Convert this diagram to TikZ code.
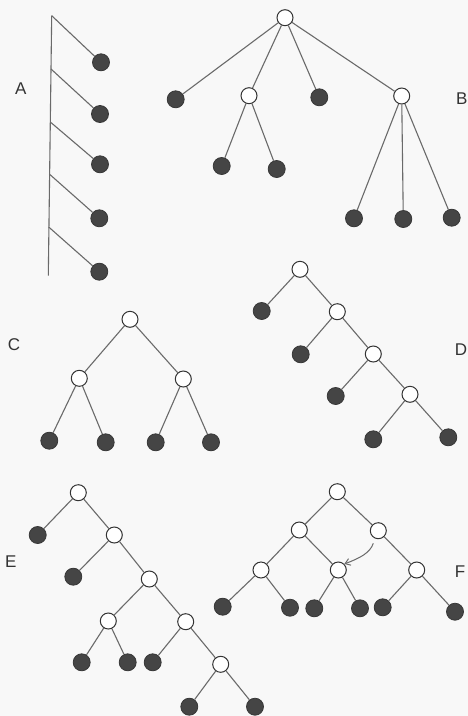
\documentclass[tikz,border=0pt]{standalone}
\usepackage{fontspec}
\setmainfont{Liberation Sans}
\usetikzlibrary{arrows.meta}
\definecolor{paper}{HTML}{F8F8F8}
\definecolor{edgegray}{HTML}{6A6A6A}
\definecolor{leafgray}{HTML}{454545}
\tikzset{
  leaf/.style={circle, fill=leafgray, draw=leafgray!80!black, line width=0.8pt, minimum size=17pt, inner sep=0pt},
  inner/.style={circle, fill=white, draw=black!80, line width=1pt, minimum size=16pt, inner sep=0pt},
  edge/.style={draw=edgegray, line width=1.1pt},
  tag/.style={font=\fontsize{17}{17}\selectfont, text=black!80}
}
\begin{document}
\begin{tikzpicture}[x=1pt, y=-1pt]
\fill[paper] (0,0) rectangle (468,716);
\useasboundingbox (0,0) rectangle (468,716);

% ---- A: comb ----
\coordinate (aTop) at (51.7,15.7);
\coordinate (aBot) at (48.3,275.7);
\coordinate (a1) at (51.7,15.7);
\coordinate (a2) at (51.0,69);
\coordinate (a3) at (50.3,122);
\coordinate (a4) at (49.3,174);
\coordinate (a5) at (48.7,227);
\node[leaf] (al1) at (101,62.3) {};
\node[leaf] (al2) at (100,114) {};
\node[leaf] (al3) at (100,164.3) {};
\node[leaf] (al4) at (99.3,218.3) {};
\node[leaf] (al5) at (99.3,271.7) {};
\draw[edge] (aTop) -- (aBot);
\foreach \i in {1,...,5} \draw[edge] (a\i) -- (al\i);
\node[tag] (labA) at (20.7,88.3) {A};

% ---- B ----
\node[inner] (b0) at (285,17.7) {};
\node[leaf] (b1) at (175.7,99.3) {};
\node[inner] (b2) at (249,95.7) {};
\node[leaf] (b3) at (319.3,97.3) {};
\node[inner] (b4) at (401.7,96) {};
\node[leaf] (b21) at (221.7,166) {};
\node[leaf] (b22) at (276.7,169) {};
\node[leaf] (b41) at (354,218.3) {};
\node[leaf] (b42) at (403.3,219) {};
\node[leaf] (b43) at (451.7,217.7) {};
\foreach \a/\b in {b0/b1,b0/b2,b0/b3,b0/b4,b2/b21,b2/b22,b4/b41,b4/b42,b4/b43}
  \draw[edge] (\a) -- (\b);
\node[tag] (labB) at (461.7,99) {B};

% ---- C ----
\node[inner] (c0) at (130,319.3) {};
\node[inner] (c1) at (79.3,378.3) {};
\node[inner] (c2) at (183.3,379) {};
\node[leaf] (c11) at (49.3,440.7) {};
\node[leaf] (c12) at (105.7,442.3) {};
\node[leaf] (c21) at (155.7,442.3) {};
\node[leaf] (c22) at (211,442.3) {};
\foreach \a/\b in {c0/c1,c0/c2,c1/c11,c1/c12,c2/c21,c2/c22}
  \draw[edge] (\a) -- (\b);
\node[tag] (labC) at (14,345) {C};

% ---- D ----
\node[inner] (d0) at (300,269.3) {};
\node[leaf] (d0l) at (261.7,311) {};
\node[inner] (d1) at (337.3,311.7) {};
\node[leaf] (d1l) at (300.7,354.3) {};
\node[inner] (d2) at (373.3,354) {};
\node[leaf] (d2l) at (335.7,396) {};
\node[inner] (d3) at (410,394.3) {};
\node[leaf] (d3l) at (373.3,439.3) {};
\node[leaf] (d3r) at (448.3,437.3) {};
\foreach \a/\b in {d0/d0l,d0/d1,d1/d1l,d1/d2,d2/d2l,d2/d3,d3/d3l,d3/d3r}
  \draw[edge] (\a) -- (\b);
\node[tag] (labD) at (461,349.3) {D};

% ---- E ----
\node[inner] (e0) at (78.3,492.7) {};
\node[leaf] (e0l) at (37.7,535) {};
\node[inner] (e1) at (114.3,535) {};
\node[leaf] (e1l) at (73.3,576.7) {};
\node[inner] (e2) at (149.3,579) {};
\node[inner] (e3) at (108.3,621) {};
\node[inner] (e4) at (185.7,621.7) {};
\node[leaf] (e31) at (81.7,662.3) {};
\node[leaf] (e32) at (127.7,662.3) {};
\node[leaf] (e4l) at (152.7,662.3) {};
\node[inner] (e5) at (220.7,664.3) {};
\node[leaf] (e51) at (189.3,706.7) {};
\node[leaf] (e52) at (255,706.7) {};
\foreach \a/\b in {e0/e0l,e0/e1,e1/e1l,e1/e2,e2/e3,e2/e4,e3/e31,e3/e32,e4/e4l,e4/e5,e5/e51,e5/e52}
  \draw[edge] (\a) -- (\b);
\node[tag] (labE) at (10.7,561.7) {E};

% ---- F ----
\node[inner] (f0) at (337.3,491.7) {};
\node[inner] (f1) at (299.3,530) {};
\node[inner] (f2) at (378.3,530.7) {};
\node[inner] (f11) at (261,570) {};
\node[inner] (f12) at (338.3,570) {};
\node[inner] (f22) at (416.7,570) {};
\node[leaf] (fl1) at (222.7,606.7) {};
\node[leaf] (fl2) at (290,607.7) {};
\node[leaf] (fl3) at (314.3,608.3) {};
\node[leaf] (fl4) at (360,608.3) {};
\node[leaf] (fl5) at (382.7,607.3) {};
\node[leaf] (fl6) at (455,611.7) {};
\foreach \a/\b in {f0/f1,f0/f2,f1/f11,f1/f12,f2/f22,f11/fl1,f11/fl2,f12/fl3,f12/fl4,f22/fl5,f22/fl6}
  \draw[edge] (\a) -- (\b);
\coordinate (fArrow) at (373.3,543.3);
\draw[edge, line width=1pt, -{Straight Barb[length=5pt, width=7pt]}]
  (fArrow) .. controls (370,553) and (360,558) .. (f12.north east);
\node[tag] (labF) at (460,571.7) {F};
\end{tikzpicture}
\end{document}
